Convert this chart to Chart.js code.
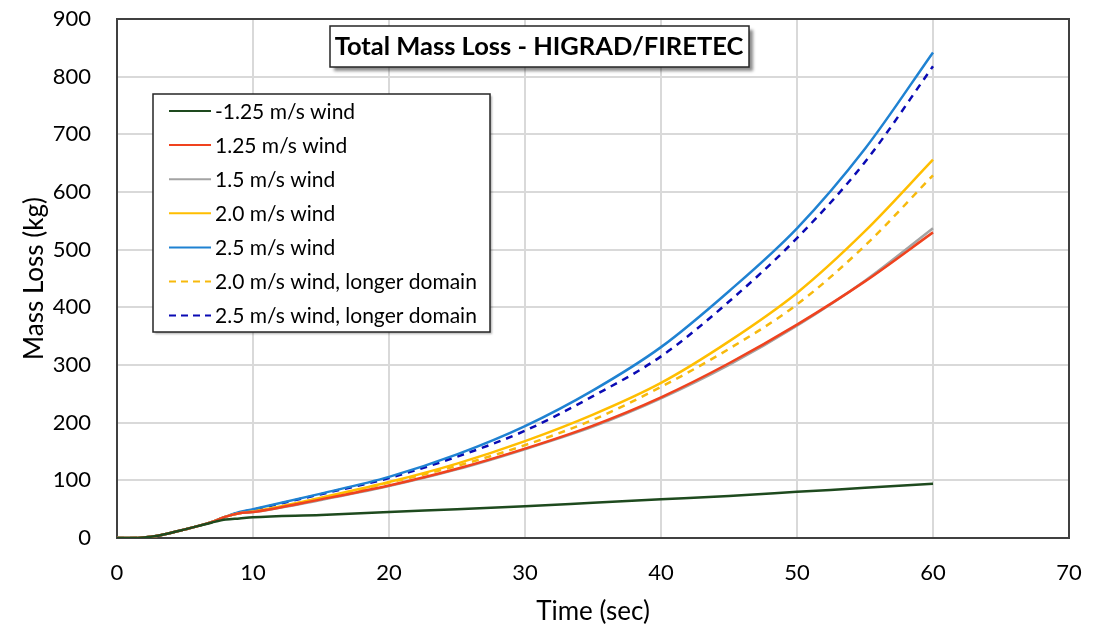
<!DOCTYPE html>
<html>
<head>
  <title>Total Mass Loss</title>
  <script src="https://cdn.jsdelivr.net/npm/chart.js"></script>
  <style>
    html, body { margin: 0; padding: 0; background: #fff; }
    #wrap { width: 1101px; height: 627px; }
  </style>
</head>
<body>
  <div id="wrap"><canvas id="myChart" width="1101" height="627"></canvas></div>
  <script>
    // values
    const timeSec = [0, 1, 2, 3, 4, 5, 6, 7, 8, 9, 10, 15, 20, 25, 30, 35, 40, 45, 50, 55, 60];
    const windNeg125 = [0, 0, 1, 4, 9, 15, 21, 27, 32, 34, 36, 40, 45, 50, 55, 61, 67, 73, 80, 87, 94];
    const wind125 = [0, 0, 1, 4, 9, 15, 21, 28, 37, 43, 45, 67, 91, 120, 155, 195, 244, 303, 370, 445, 530];
    const wind15 = [0, 0, 1, 4, 9, 15, 21, 28, 37, 43, 45, 66, 90, 119, 154, 193, 242, 300, 368, 446, 537];
    const wind20 = [0, 0, 1, 4, 9, 15, 21, 28, 37, 43, 46, 70, 97, 129, 168, 214, 269, 341, 425, 532, 656];
    const wind25 = [0, 0, 1, 4, 9, 15, 21, 28, 37, 45, 50, 77, 106, 145, 194, 256, 331, 428, 537, 675, 842];
    const wind20Long = [0, 0, 1, 4, 9, 15, 21, 28, 37, 43, 46, 69, 96, 125, 161, 205, 262, 328, 405, 507, 629];
    const wind25Long = [0, 0, 1, 4, 9, 15, 21, 28, 37, 44, 49, 76, 104, 141, 186, 246, 315, 410, 520, 652, 818];

    const xTicks = [0, 10, 20, 30, 40, 50, 60, 70];
    const yTicks = [0, 100, 200, 300, 400, 500, 600, 700, 800, 900];

    const FONT = 'Lato, "Open Sans", sans-serif';

    function makeSet(label, values, color, dash) {
      return {
        label: label,
        data: values.map((v, i) => ({x: timeSec[i], y: v})),
        borderColor: color,
        backgroundColor: color,
        borderWidth: 2.5,
        borderDash: dash || [],
        pointRadius: 0,
        cubicInterpolationMode: 'monotone',
        fill: false
      };
    }

    const datasets = [
      makeSet('-1.25 m/s wind', windNeg125, '#1e4a1e'),
      makeSet('1.25 m/s wind', wind125, '#f0421e'),
      makeSet('1.5 m/s wind', wind15, '#a3a3a3'),
      makeSet('2.0 m/s wind', wind20, '#ffbe00'),
      makeSet('2.5 m/s wind', wind25, '#1f82d2'),
      makeSet('2.0 m/s wind, longer domain', wind20Long, '#f7b90c', [7, 6]),
      makeSet('2.5 m/s wind, longer domain', wind25Long, '#0a0ab4', [7, 6])
    ];

    // frame, boxed title and boxed legend inside the plot
    const decor = {
      id: 'decor',
      beforeDatasetsDraw(chart) {
        const c = chart.ctx, a = chart.chartArea;
        c.save();
        c.strokeStyle = '#404040';
        c.lineWidth = 2;
        c.strokeRect(a.left, a.top, a.right - a.left, a.bottom - a.top);
        c.restore();
      },
      afterDatasetsDraw(chart) {
        const c = chart.ctx;
        // title box
        c.save();
        c.shadowColor = 'rgba(0,0,0,0.45)';
        c.shadowOffsetX = 4;
        c.shadowOffsetY = 4;
        c.shadowBlur = 3;
        c.fillStyle = '#fff';
        c.fillRect(330, 26, 419, 41);
        c.restore();
        c.save();
        c.strokeStyle = '#262626';
        c.lineWidth = 1.5;
        c.strokeRect(330, 26, 419, 41);
        c.fillStyle = '#000';
        c.font = 'bold 25.5px ' + FONT;
        c.textAlign = 'center';
        c.textBaseline = 'middle';
        c.fillText('Total Mass Loss - HIGRAD/FIRETEC', 539, 47);
        c.restore();

        // legend box
        c.save();
        c.shadowColor = 'rgba(0,0,0,0.3)';
        c.shadowOffsetX = 2;
        c.shadowOffsetY = 2;
        c.shadowBlur = 2;
        c.fillStyle = '#fff';
        c.fillRect(153, 94, 337, 238);
        c.restore();
        c.save();
        c.strokeStyle = '#262626';
        c.lineWidth = 1.5;
        c.strokeRect(153, 94, 337, 238);
        c.font = '21px ' + FONT;
        c.textBaseline = 'middle';
        chart.data.datasets.forEach((ds, i) => {
          const y = 111 + i * 34.1;
          c.strokeStyle = ds.borderColor;
          c.lineWidth = 2;
          c.setLineDash(ds.borderDash.length ? [7, 5] : []);
          c.beginPath();
          c.moveTo(169, y);
          c.lineTo(211, y);
          c.stroke();
          c.setLineDash([]);
          c.fillStyle = '#000';
          c.fillText(ds.label, 215, y + 1);
        });
        c.restore();
      }
    };

    const ctx = document.getElementById('myChart').getContext('2d');
    new Chart(ctx, {
      type: 'line',
      data: { datasets: datasets },
      options: {
        responsive: false,
        animation: false,
        layout: { padding: { top: 19, right: 32, left: 0, bottom: 0 } },
        plugins: {
          legend: { display: false },
          title: { display: false },
          tooltip: { enabled: false }
        },
        scales: {
          x: {
            type: 'linear',
            min: 0,
            max: 70,
            afterBuildTicks: s => { s.ticks = xTicks.map(v => ({value: v})); },
            afterFit: s => { s.height = 89; s.paddingLeft = 0; s.paddingRight = 0; },
            grid: { color: '#d9d9d9', lineWidth: 2, drawTicks: false },
            border: { display: false },
            ticks: { color: '#000', font: { family: FONT, size: 22 }, padding: 22, maxRotation: 0 },
            title: { display: true, text: 'Time (sec)', color: '#000', font: { family: FONT, size: 26 }, padding: { top: 0, bottom: 0 } }
          },
          y: {
            min: 0,
            max: 900,
            afterBuildTicks: s => { s.ticks = yTicks.map(v => ({value: v})); },
            afterFit: s => { s.width = 117; s.paddingTop = 0; s.paddingBottom = 0; },
            grid: { color: '#d9d9d9', lineWidth: 2, drawTicks: false },
            border: { display: false },
            ticks: { color: '#000', font: { family: FONT, size: 22 }, padding: 26 },
            title: { display: true, text: 'Mass Loss (kg)', color: '#000', font: { family: FONT, size: 26 }, padding: { top: 19, bottom: 0 } }
          }
        }
      },
      plugins: [decor]
    });
  </script>
</body>
</html>
